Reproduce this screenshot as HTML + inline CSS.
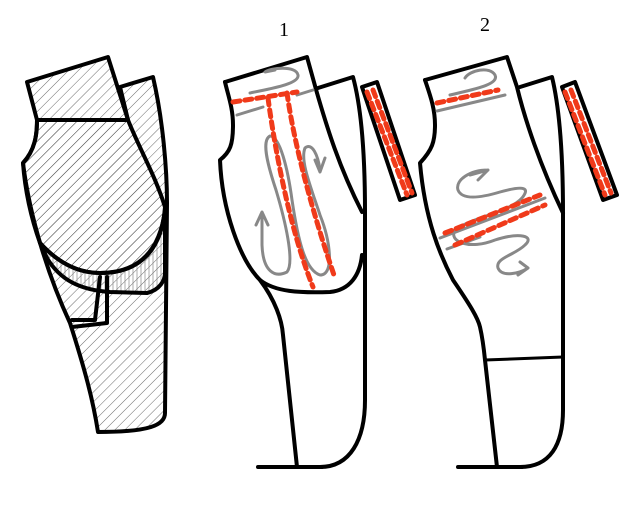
<!DOCTYPE html>
<html><head><meta charset="utf-8"><style>
html,body{margin:0;padding:0;background:#fff;width:636px;height:505px;overflow:hidden}
svg{display:block}
</style></head><body>
<svg width="636" height="505" viewBox="0 0 636 505" xmlns="http://www.w3.org/2000/svg">
<defs>
<pattern id="h" patternUnits="userSpaceOnUse" width="7" height="7" patternTransform="rotate(45)">
<line x1="0" y1="0" x2="0" y2="7" stroke="#444" stroke-width="0.8"/>
</pattern>
<pattern id="v" patternUnits="userSpaceOnUse" width="4" height="10">
<line x1="1" y1="0" x2="1" y2="10" stroke="#888" stroke-width="0.7"/>
</pattern>
</defs>
<g fill="none" stroke="#000" stroke-width="4" stroke-linejoin="round" stroke-linecap="round">
<!-- FIGURE 1 (hatched) -->
<path fill="url(#h)" d="M120,87 L153,77 C163,120 167,170 167,203 L165,413 C165,425 150,432 98,432 C93,400 85,370 70,323 C50,280 30,220 23,163 C35,150 37,135 37,120 L128,120 Z"/>
<path fill="url(#h)" d="M27,82 L108,57 L128,120 L37,120 Z"/>
<path fill="url(#v)" d="M47,258 C60,280 80,290 110,292 L147,293 C160,290 165,280 165,273 L165,210 C160,250 140,273 100,273 C80,273 60,265 40,243 Z"/>
<path fill="url(#h)" d="M23,163 C35,150 37,135 37,120 L128,120 C140,150 155,175 165,207 C162,250 140,273 100,273 C80,273 60,265 40,243 C30,215 25,190 23,163 Z"/>
<path d="M100,277 L95,320 L72,320"/>
<path d="M107,277 L107,323 L72,327"/>

<!-- FIGURE 2 -->
<text x="284" y="36" font-family="Liberation Serif, serif" font-size="20" fill="#000" stroke="none" text-anchor="middle">1</text>
<path d="M318,88 L353,77 C362,110 365,160 365,212 L365,400 C365,440 350,467 320,467"/>
<path d="M258,467 L322,467"/>
<path d="M225,82 L307,57 L317,93 C325,120 337,163 362,212"/>
<path d="M225,82 C228,95 233,108 233,125 C233,145 230,152 220,160 C222,210 240,260 260,280 C275,300 282,320 283,335 L297,467"/>
<path d="M260,280 C275,292 300,293 330,292 C350,290 360,275 362,255"/>
<path fill="#fff" d="M362,87 L377,82 L415,195 L400,200 Z"/>

<!-- FIGURE 3 -->
<text x="485" y="31" font-family="Liberation Serif, serif" font-size="20" fill="#000" stroke="none" text-anchor="middle">2</text>
<path d="M520,87 L552,77 C560,110 563,160 563,213 L563,410 C563,445 550,467 520,467"/>
<path d="M458,467 L522,467"/>
<path d="M425,80 L507,57 L517,87 C525,120 540,165 563,213"/>
<path d="M425,80 C430,95 435,108 435,125 C435,142 432,150 420,163 C425,220 440,255 453,280 C470,305 478,318 480,327 C483,340 484,350 485,360 L497,467"/>
<path d="M485,360 L563,357" stroke-width="3"/>
<path fill="#fff" d="M562,87 L575,82 L617,195 L603,200 Z"/>
</g>

<!-- gray lines -->
<g fill="none" stroke="#888" stroke-width="3" stroke-linecap="round" stroke-linejoin="round">
<path d="M237,115 L263,107 M297,95 L313,90"/>
<path d="M250,93 C262,90 300,85 298,75 C296,65 270,68 265,72 L275,70"/>
<path d="M262,213 L262,245 C263,272 275,278 287,272 C295,262 285,220 276,190 C266,160 262,140 270,136 C280,136 288,170 292,200 C298,240 305,270 320,275 C335,275 330,240 320,215 C310,185 300,160 305,148 C312,142 318,155 320,170"/>
<path d="M256,225 L262,212 L268,225"/>
<path d="M315,160 L320,172 L325,158"/>
<path d="M437,111 L505,95"/>
<path d="M450,95 C470,90 500,85 495,75 C490,66 470,70 465,78"/>
<path d="M440,238 L545,198 M447,249 L480,237"/>
<path d="M470,175 L488,170 L478,180 M488,170 C470,170 455,180 458,190 C462,200 480,198 500,192 C525,185 530,188 522,198 C510,212 470,218 455,230 C448,242 470,250 495,240 C520,232 535,236 525,245 C515,255 495,258 498,268 C502,278 520,273 528,268 M520,262 L528,268 L518,275"/>
</g>

<!-- red dashes -->
<g fill="none" stroke="#f03a1a" stroke-width="5" stroke-dasharray="7 5" stroke-linecap="round">
<path d="M233,102 L297,92"/>
<path d="M268,98 C275,150 290,230 313,287"/>
<path d="M287,93 C295,150 315,220 335,278"/>
<path d="M367,92 L407,195"/>
<path d="M373,90 L412,193"/>
<path d="M437,103 L498,90"/>
<path d="M445,233 L540,195"/>
<path d="M455,245 L545,205"/>
<path d="M565,92 L605,195"/>
<path d="M571,90 L611,193"/>
</g>
</svg>
</body></html>
